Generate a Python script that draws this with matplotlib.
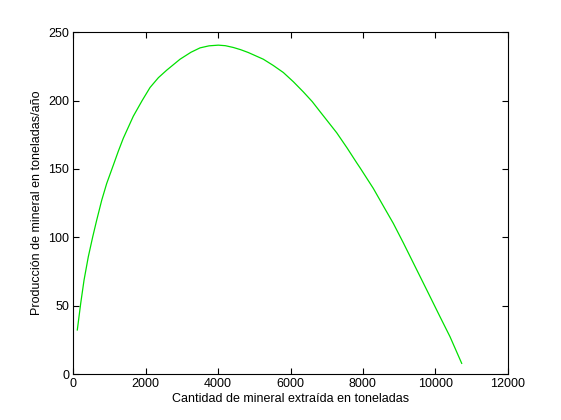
import matplotlib
matplotlib.use("Agg")
import matplotlib.pyplot as plt

extraction = [110, 204, 296, 414, 536, 646, 785, 922, 1105, 1243, 1381, 1657,
              1900, 2119, 2350, 2580, 2948, 3250, 3500, 3750, 4006, 4200, 4420,
              4620, 4834, 5249, 5520, 5801, 6080, 6354, 6600, 6815, 7276, 7560,
              7829, 7920, 8287, 8610, 8840, 9116, 9392, 9762, 10130, 10406, 10729]
production = [32.2, 51.7, 68.7, 85.8, 100.4, 112.6, 127.2, 139.4, 152.8, 163.0, 172.5, 188.6,
              200.0, 209.6, 216.8, 222.3, 230.3, 235.4, 238.6, 240.1, 240.6, 240.2, 238.9,
              237.3, 235.2, 230.3, 225.8, 220.6, 213.8, 206.4, 199.3, 192.0, 176.5, 165.5,
              154.5, 150.9, 135.8, 120.8, 110.2, 96.0, 81.3, 61.6, 41.9, 27.3, 7.8]

xticks = [0, 2000, 4000, 6000, 8000, 10000, 12000]
yticks = [0, 50, 100, 150, 200, 250]

plt.rcParams['font.family'] = ['Liberation Sans', 'DejaVu Sans']

fig = plt.figure(figsize=(5.61, 4.20), dpi=100)
ax = fig.add_axes([0.1307, 0.1095, 0.7743, 0.8136])
ax.plot(extraction, production, color='#00e000', lw=0.9)
ax.set_xlim(0, 12000)
ax.set_ylim(0, 250)
ax.set_xticks(xticks)
ax.set_yticks(yticks)
ax.tick_params(direction='in', top=True, right=True, length=4, width=0.8,
               labelsize=9, pad=3)
for s in ax.spines.values():
    s.set_linewidth(0.8)
ax.set_xlabel('Cantidad de mineral extraída en toneladas', fontsize=9, labelpad=2)
ax.set_ylabel('Producción de mineral en toneladas/año', fontsize=9, labelpad=4)
fig.savefig('out.png', dpi=100)
